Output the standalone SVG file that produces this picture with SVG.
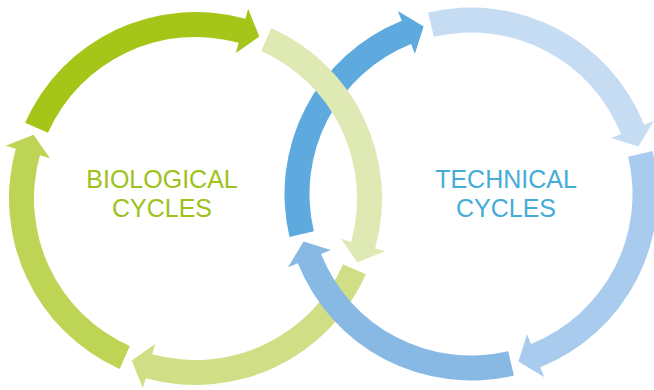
<svg xmlns="http://www.w3.org/2000/svg" xmlns:xlink="http://www.w3.org/1999/xlink" width="654" height="390" viewBox="0 0 654 390">
  <style>
    .label { font-family: "Liberation Sans", Arial, sans-serif; font-size: 25px; text-anchor: middle; }
    .bio { fill: #9dc21b; }
    .tech { fill: #45acd8; }
  </style>
  <defs>
    <path id="arc-arrow" d="M186.5,0 A186.5,186.5 0 0 1 27.567,184.452 L29.119,194.837 L7.590,173.835 L22.319,149.342 L23.871,159.727 A161.5,161.5 0 0 0 161.5,0 Z"/>
  </defs>
  <rect width="654" height="390" fill="#ffffff"/>
  <g id="connectors">
    <use id="bio-bottom" xlink:href="#arc-arrow" href="#arc-arrow" transform="translate(195.5,198.5) rotate(24)" fill="#d0df86"/>
    <use id="tech-bottom" xlink:href="#arc-arrow" href="#arc-arrow" transform="translate(471,194) rotate(76.7)" fill="#88b9e4"/>
    <use id="tech-left" xlink:href="#arc-arrow" href="#arc-arrow" transform="translate(471,194) rotate(166.7)" fill="#5eaade"/>
    <use id="bio-right" xlink:href="#arc-arrow" href="#arc-arrow" transform="translate(195.5,198.5) rotate(294)" fill="#dfe9b4"/>
    <use id="bio-left" xlink:href="#arc-arrow" href="#arc-arrow" transform="translate(195.5,198.5) rotate(114)" fill="#bed454"/>
    <use id="bio-top" xlink:href="#arc-arrow" href="#arc-arrow" transform="translate(195.5,198.5) rotate(204)" fill="#a5c618"/>
    <use id="tech-top" xlink:href="#arc-arrow" href="#arc-arrow" transform="translate(471,194) rotate(256.7)" fill="#c6dcf3"/>
    <use id="tech-right" xlink:href="#arc-arrow" href="#arc-arrow" transform="translate(471,194) rotate(346.7)" fill="#a9cbed"/>
  </g>
  <g id="biological-label">
    <text class="label bio" x="162" y="188">BIOLOGICAL</text>
    <text class="label bio" x="162" y="217">CYCLES</text>
  </g>
  <g id="technical-label">
    <text class="label tech" x="506" y="188">TECHNICAL</text>
    <text class="label tech" x="506" y="217">CYCLES</text>
  </g>
</svg>
